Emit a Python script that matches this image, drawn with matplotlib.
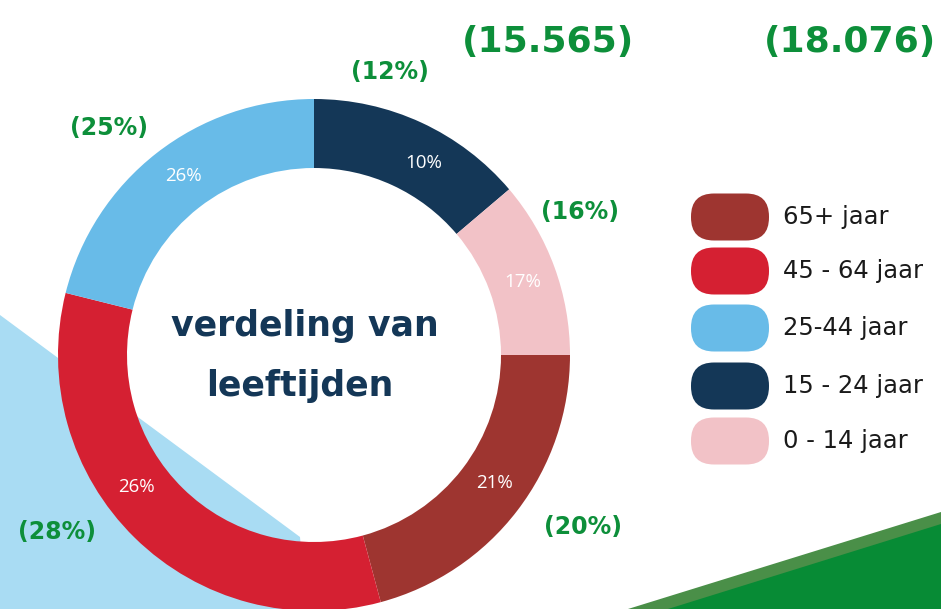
import matplotlib
matplotlib.use("Agg")
import matplotlib.pyplot as plt
from matplotlib.patches import FancyBboxPatch, Polygon
import numpy as np

# ---- data ----
categories = ["15 - 24 jaar", "0 - 14 jaar", "65+ jaar", "45 - 64 jaar", "25-44 jaar"]
wedge_sizes = [13.8, 11.2, 20.8, 33.1, 21.1]          # drawn wedge sizes (as measured)
wedge_labels = ["10%", "17%", "21%", "26%", "26%"]      # printed labels inside ring
outer_labels = ["(12%)", "(16%)", "(20%)", "(28%)", "(25%)"]
colors = ["#143757", "#f2c2c7", "#9e3530", "#d52032", "#68bbe8"]

legend_order = ["65+ jaar", "45 - 64 jaar", "25-44 jaar", "15 - 24 jaar", "0 - 14 jaar"]
totals = ["(15.565)", "(18.076)"]
title_lines = ["verdeling van", "leeftijden"]

# layout: angular shift (deg) of each inside label from its wedge midpoint
label_shift = [-5, -1, 2, -9, -2]

W, H = 941, 609
fig = plt.figure(figsize=(W / 100, H / 100), dpi=100)
ax = fig.add_axes([0, 0, 1, 1])
ax.set_xlim(0, W)
ax.set_ylim(0, H)
ax.set_aspect("equal")
ax.axis("off")

def Y(y):  # image y -> axes y
    return H - y

# background light-blue shape (bottom-left)
bg = Polygon([(0, Y(315)), (300, Y(537)), (306, Y(609)), (0, Y(609))],
             closed=True, facecolor="#a9dcf3", edgecolor="none", zorder=0)
ax.add_patch(bg)

# green stripe bottom right
ax.add_patch(Polygon([(628, Y(609)), (941, Y(512)), (941, Y(609))],
                     closed=True, facecolor="#4a8f48", edgecolor="none", zorder=0))
ax.add_patch(Polygon([(668, Y(609)), (941, Y(524)), (941, Y(609))],
                     closed=True, facecolor="#078b35", edgecolor="none", zorder=0))

# donut
cx, cy = 314, Y(355)
R, w = 256, 69
wedges, _ = ax.pie(wedge_sizes, colors=colors, startangle=90, counterclock=False,
                   center=(cx, cy), radius=R, frame=True,
                   wedgeprops=dict(width=w, edgecolor="none"))
for wd in wedges:
    wd.set_zorder(2)
ax.set_xlim(0, W)
ax.set_ylim(0, H)
ax.axis("off")

rl = R - w / 2
for wd, lab, sh in zip(wedges, wedge_labels, label_shift):
    ang = np.deg2rad((wd.theta1 + wd.theta2) / 2 + sh)
    ax.text(cx + rl * np.cos(ang), cy + rl * np.sin(ang), lab, color="white",
            fontsize=13.5, ha="center", va="center", family="Open Sans", zorder=3)

# outer green annotations
green = "#0d8f3a"
outer_pos = [(390, 72), (580, 212), (583, 527), (57, 532), (109, 128)]
for (x, y), lab in zip(outer_pos, outer_labels):
    ax.text(x, Y(y), lab, color=green, fontsize=17, fontweight="bold",
            ha="center", va="center", family="DejaVu Sans", zorder=3)
for (x, y), lab in zip([(548, 42), (850, 42)], totals):
    ax.text(x, Y(y), lab, color=green, fontsize=26, fontweight="bold",
            ha="center", va="center", family="DejaVu Sans", zorder=3)

# centre title
ax.text(305, Y(326), title_lines[0], color="#143757", fontsize=25, fontweight="bold",
        ha="center", va="center", family="DejaVu Sans", zorder=3)
ax.text(300, Y(386), title_lines[1], color="#143757", fontsize=25, fontweight="bold",
        ha="center", va="center", family="DejaVu Sans", zorder=3)

# legend pills
leg_y = [217, 271, 328, 386, 441]
for cat, yc in zip(legend_order, leg_y):
    col = colors[categories.index(cat)]
    ax.add_patch(FancyBboxPatch((691, Y(yc) - 23.5), 78, 47,
                                boxstyle="round,pad=0,rounding_size=23",
                                facecolor=col, edgecolor="none", zorder=3))
    ax.text(783, Y(yc), cat, color="#1a1a1a", fontsize=17.5, ha="left",
            va="center", family="DejaVu Sans", zorder=3)

fig.savefig("out.png", dpi=100)
